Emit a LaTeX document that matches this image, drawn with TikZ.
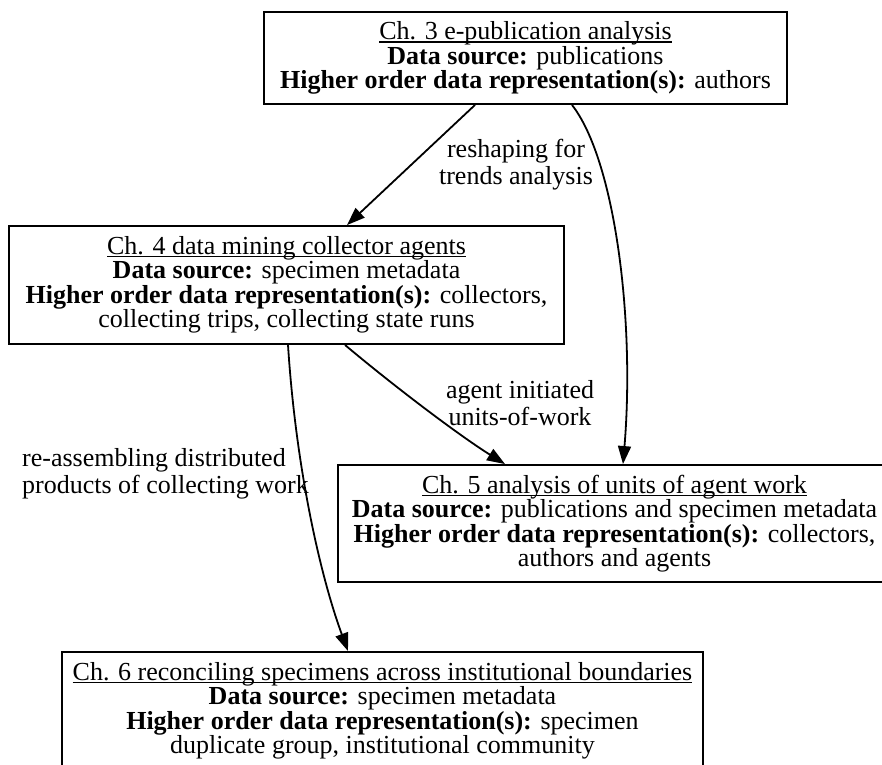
\documentclass[tikz,border=0pt]{standalone}
\usepackage{fontspec}
\setmainfont{Liberation Serif}
\usetikzlibrary{arrows.meta}

% underlined heading line: rule just under the baseline
\newsavebox\headbox
\newcommand{\ulhead}[1]{\sbox\headbox{#1}\rlap{\rule[-3pt]{\wd\headbox}{1.3pt}}\usebox\headbox}

\tikzset{
  chapter/.style={draw, line width=1.9pt, inner sep=0pt, align=center,
    font=\fontsize{26}{24.5}\selectfont},
  edgelabel/.style={inner sep=0pt, align=center, font=\fontsize{26}{27}\selectfont},
  flow/.style={-{Triangle[length=18pt,width=13pt]}, line width=1.8pt}
}

\begin{document}
\begin{tikzpicture}[x=1pt,y=-1pt]
  \fill[white] (0,0) rectangle (882,764);
  \useasboundingbox (0,0) rectangle (882,764);

  % chapter boxes
  \node[chapter, minimum width=523pt, minimum height=92pt] (b1) at (525.5,58)
    {\ulhead{Ch. 3 e-publication analysis}\\
     \textbf{Data source:} publications\\
     \textbf{Higher order data representation(s):} authors};
  \node[chapter, minimum width=555pt, minimum height=118pt] (b2) at (286.5,285)
    {\ulhead{Ch. 4 data mining collector agents}\\
     \textbf{Data source:} specimen metadata\\
     \textbf{Higher order data representation(s):} collectors,\\
     collecting trips, collecting state runs};
  \node[chapter, minimum width=553pt, minimum height=117pt] (b3) at (614.5,523.5)
    {\ulhead{Ch. 5 analysis of units of agent work}\\
     \textbf{Data source:} publications and specimen metadata\\
     \textbf{Higher order data representation(s):} collectors,\\
     authors and agents};
  \node[chapter, minimum width=641pt, minimum height=118pt] (b4) at (382.5,711)
    {\ulhead{Ch. 6 reconciling specimens across institutional boundaries}\\
     \textbf{Data source:} specimen metadata\\
     \textbf{Higher order data representation(s):} specimen\\
     duplicate group, institutional community};

  % edge labels
  \node[edgelabel] (l1) at (516,165) {reshaping for\\trends analysis};
  \node[edgelabel] (l3) at (520,403) {agent initiated\\units-of-work};
  \node[edgelabel, align=left, anchor=west] (l4) at (22,474)
    {re-assembling distributed\\products of collecting work};

  % connectors
  \draw[flow] ([xshift=-50.5pt]b1.south) -- ([xshift=60.5pt]b2.north);
  \draw[flow] ([xshift=46.5pt]b1.south) .. controls (615,160) and (635,320) .. ([xshift=8.5pt]b3.north);
  \draw[flow] ([xshift=58.5pt]b2.south) .. controls (395,387) and (460,436) .. ([xshift=-109.5pt]b3.north);
  \draw[flow] ([xshift=1.5pt]b2.south) .. controls (296,470) and (321,578) .. ([xshift=-34.5pt]b4.north);
\end{tikzpicture}
\end{document}
